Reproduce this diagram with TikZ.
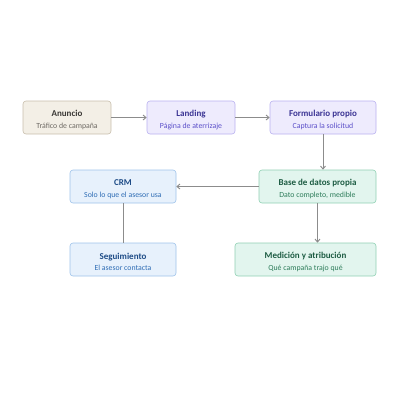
\documentclass[tikz,border=0pt]{standalone}
\usepackage{fontspec}
\setmainfont{Carlito}
\usepackage{xcolor}
\usepackage{tikz}
\usetikzlibrary{arrows.meta}

\definecolor{beigefill}{HTML}{F3EFE6}
\definecolor{beigeline}{HTML}{C8BEAD}
\definecolor{beigetitle}{HTML}{3A3835}
\definecolor{beigesub}{HTML}{6E6A64}
\definecolor{lilafill}{HTML}{EEEBFD}
\definecolor{lilaline}{HTML}{B9B1F0}
\definecolor{lilatitle}{HTML}{3B3494}
\definecolor{lilasub}{HTML}{5B4FC9}
\definecolor{azulfill}{HTML}{E7F1FC}
\definecolor{azulline}{HTML}{9EC3EA}
\definecolor{azultitle}{HTML}{1E4C87}
\definecolor{azulsub}{HTML}{2F6DB5}
\definecolor{verdefill}{HTML}{E2F5EE}
\definecolor{verdeline}{HTML}{90D0B3}
\definecolor{verdetitle}{HTML}{1D5C43}
\definecolor{verdesub}{HTML}{2E7D5B}
\definecolor{flecha}{HTML}{8C8C8C}

\newcommand{\caja}[4]{\rule{0pt}{11.5pt}{\color{#1}\fontsize{9}{11.5}\selectfont\bfseries #2}\\{\color{#3}\fontsize{7.8}{11.5}\selectfont #4}}

\begin{document}
\begin{tikzpicture}[x=1pt,y=-1pt,
  paso/.style={draw, line width=0.6pt, rounded corners=3pt, minimum height=33pt, align=center, inner sep=0pt,
    font=\fontsize{8}{11.5}\selectfont},
  beige/.style={paso, fill=beigefill, draw=beigeline},
  lila/.style={paso, fill=lilafill, draw=lilaline},
  azul/.style={paso, fill=azulfill, draw=azulline},
  verde/.style={paso, fill=verdefill, draw=verdeline},
  flujo/.style={draw=flecha, line width=0.9pt, -{Straight Barb[length=3pt,width=5pt]}}]

\useasboundingbox (0,0) rectangle (400,400);

% fila superior
\node[beige, minimum width=88pt] (anuncio) at (67,117.5) {\caja{beigetitle}{Anuncio}{beigesub}{Tráfico de campaña}};
\node[lila, minimum width=88pt] (landing) at (191,117.5) {\caja{lilatitle}{Landing}{lilasub}{Página de aterrizaje}};
\node[lila, minimum width=106pt] (formulario) at (323,117.5) {\caja{lilatitle}{Formulario propio}{lilasub}{Captura la solicitud}};

% fila media
\node[azul, minimum width=106pt] (crm) at (123,186.5) {\caja{azultitle}{CRM}{azulsub}{Solo lo que el asesor usa}};
\node[verde, minimum width=117pt] (base) at (317.5,186.5) {\caja{verdetitle}{Base de datos propia}{verdesub}{Dato completo, medible}};

% fila inferior
\node[azul, minimum width=106pt] (seguimiento) at (123,259.5) {\caja{azultitle}{Seguimiento}{azulsub}{El asesor contacta}};
\node[verde, minimum width=141pt] (medicion) at (305.5,259.5) {\caja{verdetitle}{Medición y atribución}{verdesub}{Qué campaña trajo qué}};

\draw[flujo] (anuncio) -- (landing);
\draw[flujo] (landing) -- (formulario);
\draw[flujo] (formulario.south) -- (formulario.south |- base.north);
\draw[flujo] (base) -- (crm);
\draw[draw=flecha, line width=0.9pt] (crm) -- (seguimiento);
\draw[flujo] (base.south) -- (base.south |- medicion.north);

\end{tikzpicture}
\end{document}
